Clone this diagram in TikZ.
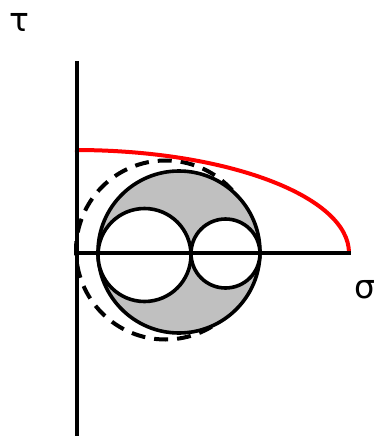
\documentclass[tikz,border=0pt]{standalone}
\usepackage{fontspec}
\setmainfont{DejaVu Sans}
\begin{document}
\begin{tikzpicture}[x=1pt,y=-1pt,
  axisline/.style={line width=3.8pt,black},
  circline/.style={line width=3.6pt,black},
  envelope/.style={line width=4pt,red},
  dashcirc/.style={line width=4pt,black,dash pattern=on 14pt off 9pt},
  lbl/.style={font=\fontsize{33}{33}\selectfont,inner sep=0pt}]
\useasboundingbox (0,0) rectangle (377,436);
\coordinate (O) at (77,253);
\coordinate (Ytop) at (77,61);
\coordinate (Ybot) at (77,436);
\coordinate (Xend) at (351,253);
\node[lbl] (tau) at (19,22) {τ};
\node[lbl] (sigma) at (365,290) {σ};
% dashed circle
\draw[dashcirc] (165.5,250) circle[radius=89.5];
% gray circle
\draw[circline,fill={rgb,255:red,192;green,192;blue,192}] (179,252) circle[radius=81];
% white circles
\draw[circline,fill=white] (144.5,255) circle[radius=46.5];
\draw[circline,fill=white] (225.5,253.5) circle[radius=34.5];
% red envelope
\draw[envelope] (75,150) arc[start angle=90,end angle=0,x radius=274,y radius=-103];
% axes
\draw[axisline] (Ytop) -- (Ybot);
\draw[axisline] (O) -- (Xend);
\end{tikzpicture}
\end{document}
